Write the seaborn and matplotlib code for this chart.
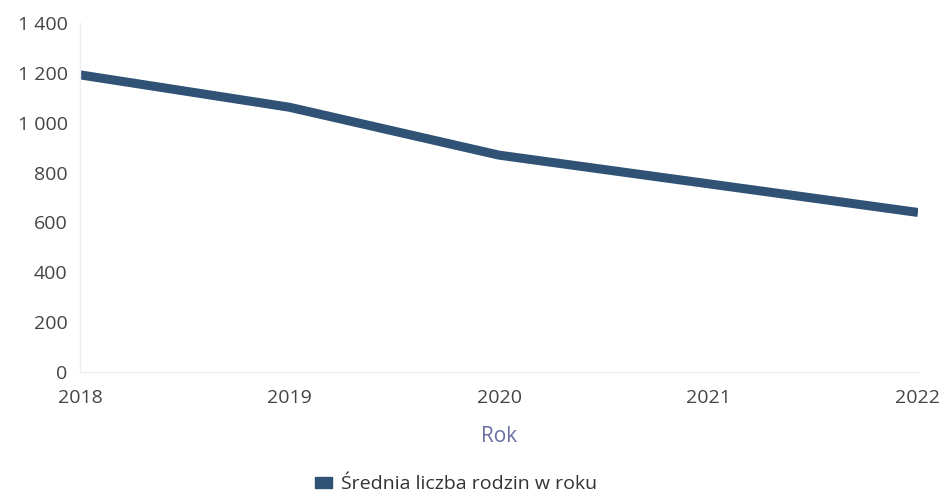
import pandas as pd
import seaborn as sns
import matplotlib.pyplot as plt
from matplotlib.patches import Patch
from matplotlib.ticker import FuncFormatter

sns.set_style("white")
plt.rcParams['font.family'] = ['Open Sans', 'DejaVu Sans']

years = [2018, 2019, 2020, 2021, 2022]
families = [1192, 1062, 870, 755, 640]
series_name = 'Średnia liczba rodzin w roku'
y_ticks = [0, 200, 400, 600, 800, 1000, 1200, 1400]

line_color = '#2f5275'
df = pd.DataFrame({'Rok': years, 'Rodziny': families})

fig = plt.figure(figsize=(9.42, 4.97), dpi=100)
ax = fig.add_axes([0.085, 0.2515, 0.8895, 0.7022])
sns.lineplot(data=df, x='Rok', y='Rodziny', color=line_color,
             linewidth=6.5, solid_capstyle='butt', ax=ax)

ax.set_xlim(2018, 2022)
ax.set_ylim(0, 1400)
ax.set_xticks(years)
ax.set_yticks(y_ticks)
ax.yaxis.set_major_formatter(
    FuncFormatter(lambda v, p: f'{int(v):,}'.replace(',', ' ')))
ax.tick_params(axis='both', length=0, labelsize=14, colors='#444444')
ax.tick_params(axis='y', pad=9)
ax.tick_params(axis='x', pad=12)
ax.set_ylabel('')
ax.set_xlabel('Rok', fontsize=15, color='#6a6fa3', labelpad=14)

for side in ['top', 'right']:
    ax.spines[side].set_visible(False)
for side in ['left', 'bottom']:
    ax.spines[side].set_color('#eceef4')
    ax.spines[side].set_linewidth(1)

# legend under the axis label, small flat box as handle
handle = Patch(facecolor=line_color, edgecolor=line_color)
fig.legend([handle], [series_name], loc='center', bbox_to_anchor=(0.484, 0.026),
           frameon=False, fontsize=14, handletextpad=0.45, borderpad=0.2,
           handlelength=0.85, handleheight=0.5, labelcolor='#333333')

plt.savefig('out.png', dpi=100)
